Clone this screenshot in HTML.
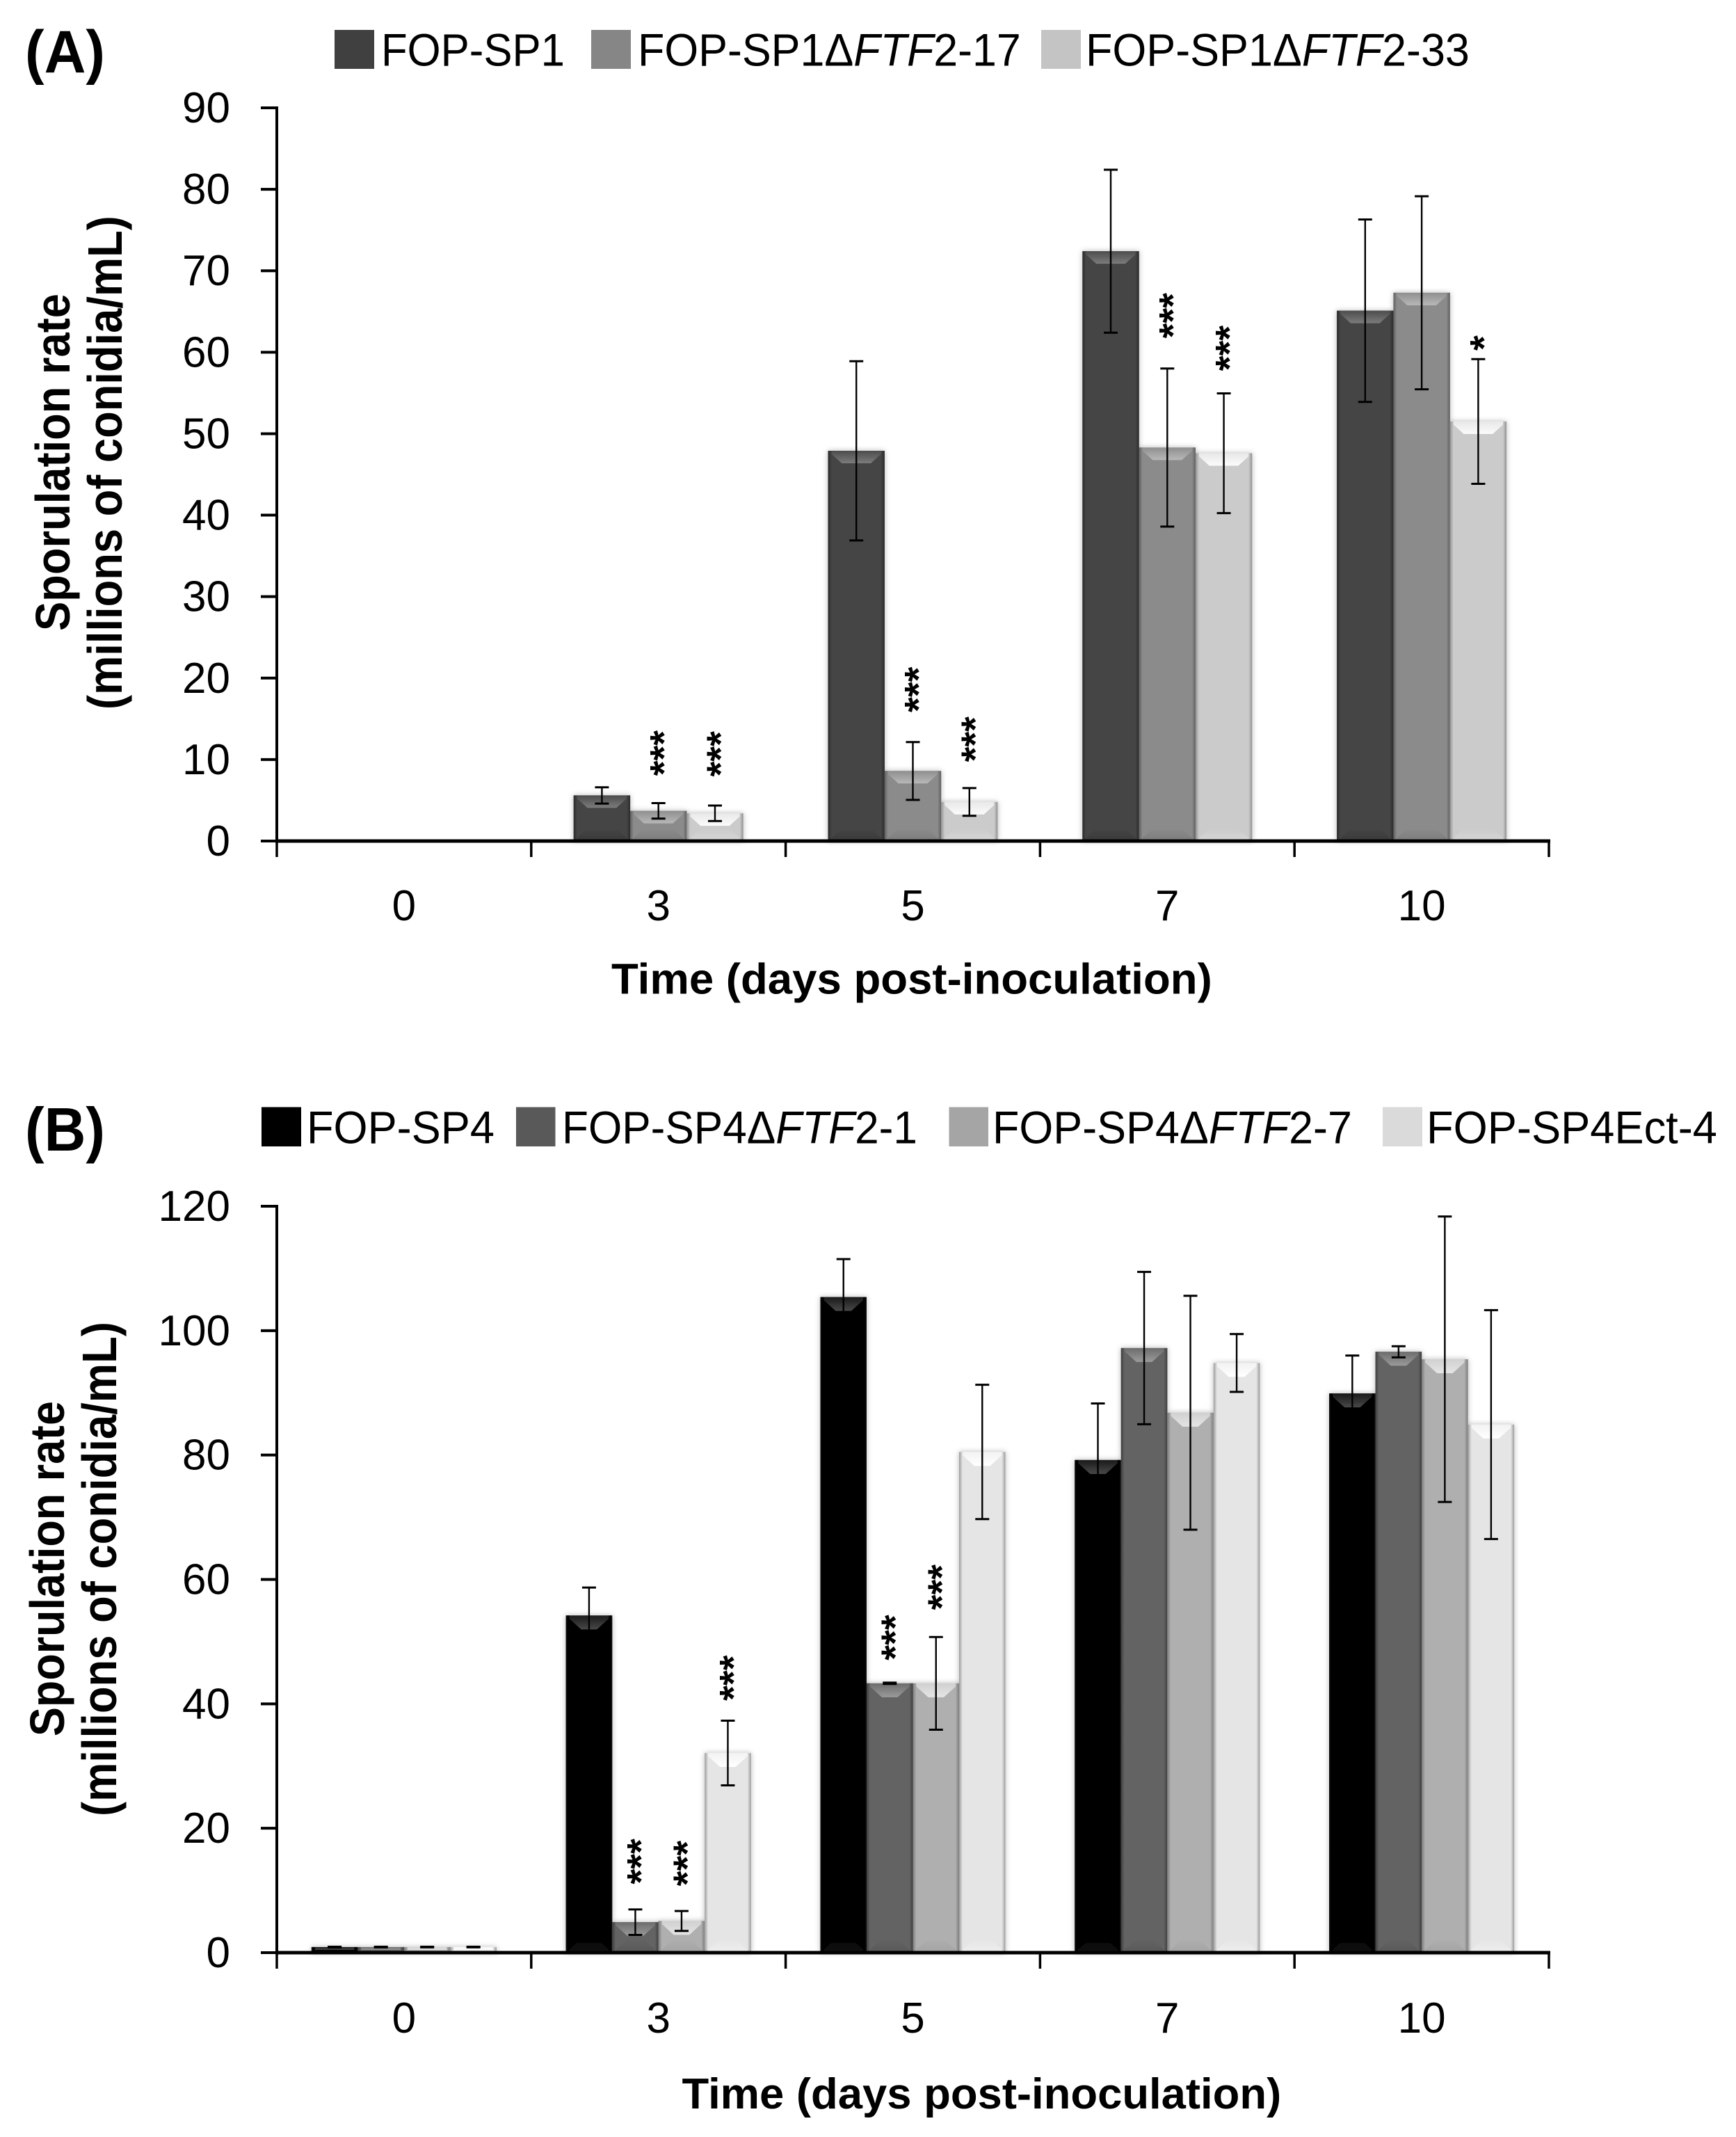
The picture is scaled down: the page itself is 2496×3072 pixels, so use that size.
<!DOCTYPE html>
<html lang="en">
<head>
<meta charset="utf-8">
<title>Sporulation rate charts</title>
<style>
html,body{margin:0;padding:0;background:#fff;}
svg{display:block;}
text{font-family:"Liberation Sans",Arial,sans-serif;fill:#000;}
.title{font-weight:bold;}
</style>
</head>
<body>
<svg id="figure" xmlns="http://www.w3.org/2000/svg" width="2496" height="3072" viewBox="0 0 2496 3072">
  <defs id="defs">
    <filter id="glow" x="-20%" y="-20%" width="140%" height="140%">
      <feDropShadow dx="0" dy="0" stdDeviation="4" flood-color="#000" flood-opacity="0.28"/>
    </filter>
  </defs>
  <rect width="2496" height="3072" fill="#fff"/>

  <text class="title fit" font-size="86" data-x="36" data-y="104" data-w="115">(A)</text>
  <text class="title fit" font-size="88" data-x="36" data-y="1654" data-w="115">(B)</text>

  <g>
    <g>
      <rect x="481" y="43" width="57" height="56" fill="#404040"/>
      <text class="fit" font-size="66" data-x="548" data-y="94.6" data-w="264">FOP-SP1</text>
    </g>
    <g>
      <rect x="850" y="43" width="57" height="56" fill="#868686"/>
      <text class="fit" font-size="66" data-x="917" data-y="94.6" data-w="551">FOP-SP1Δ<tspan font-style="italic">FTF</tspan>2-17</text>
    </g>
    <g>
      <rect x="1497" y="43" width="57" height="56" fill="#c4c4c4"/>
      <text class="fit" font-size="66" data-x="1561" data-y="94.6" data-w="552">FOP-SP1Δ<tspan font-style="italic">FTF</tspan>2-33</text>
    </g>
  </g>

  <g>
    <g>
      <rect x="376" y="1591.5" width="57" height="56.5" fill="#000"/>
      <text class="fit" font-size="66" data-x="441" data-y="1643.6" data-w="270">FOP-SP4</text>
    </g>
    <g>
      <rect x="742" y="1591.5" width="56.5" height="56.5" fill="#595959"/>
      <text class="fit" font-size="66" data-x="808" data-y="1643.6" data-w="511">FOP-SP4Δ<tspan font-style="italic">FTF</tspan>2-1</text>
    </g>
    <g>
      <rect x="1364.5" y="1591.5" width="56.5" height="56.5" fill="#a5a5a5"/>
      <text class="fit" font-size="66" data-x="1427" data-y="1643.6" data-w="517">FOP-SP4Δ<tspan font-style="italic">FTF</tspan>2-7</text>
    </g>
    <g>
      <rect x="1988" y="1591.5" width="57" height="56.5" fill="#dadada"/>
      <text class="fit" font-size="66" data-x="2051" data-y="1643.6" data-w="418">FOP-SP4Ect-4</text>
    </g>
  </g>

  <text class="title fit" font-size="70" data-x="100" data-y="907" data-r="-90" data-w="485">Sporulation rate</text>
  <text class="title fit" font-size="70" data-x="175" data-y="1020" data-r="-90" data-w="710">(millions of conidia/mL)</text>
  <text class="title fit" font-size="62" data-x="879" data-y="1428.6" data-w="864">Time (days post-inoculation)</text>

  <text class="title fit" font-size="70" data-x="92" data-y="2496" data-r="-90" data-w="482">Sporulation rate</text>
  <text class="title fit" font-size="70" data-x="167" data-y="2611" data-r="-90" data-w="711">(millions of conidia/mL)</text>
  <text class="title fit" font-size="62" data-x="980.5" data-y="3031" data-w="862">Time (days post-inoculation)</text>
</svg>

<script>
// ---------- shared categories ----------
var categories = ['0', '3', '5', '7', '10'];

// ---------- panel A data (millions of conidia/mL) ----------
var yTicksA = [0, 10, 20, 30, 40, 50, 60, 70, 80, 90];
var seriesNamesA = ['FOP-SP1', 'FOP-SP1-FTF2-17', 'FOP-SP1-FTF2-33'];
var sp1Values   = [0, 5.6, 47.9, 72.4, 65.1];
var sp1Errors   = [0, 1.0, 11.0, 10.0, 11.2];
var sp1d17Values = [0, 3.7, 8.6, 48.3, 67.3];
var sp1d17Errors = [0, 0.95, 3.55, 9.7, 11.85];
var sp1d33Values = [0, 3.4, 4.8, 47.6, 51.5];
var sp1d33Errors = [0, 0.95, 1.7, 7.35, 7.65];
var sp1Stars    = ['', '', '', '', ''];
var sp1d17Stars = ['', '***', '***', '***', ''];
var sp1d33Stars = ['', '***', '***', '***', '*'];
var sp1StarLevels    = [0, 0, 0, 0, 0];
var sp1d17StarLevels = [0, 8.0, 15.8, 61.7, 0];
var sp1d33StarLevels = [0, 7.9, 9.7, 57.7, 60.2];

// ---------- panel B data (millions of conidia/mL) ----------
var yTicksB = [0, 20, 40, 60, 80, 100, 120];
var seriesNamesB = ['FOP-SP4', 'FOP-SP4-FTF2-1', 'FOP-SP4-FTF2-7', 'FOP-SP4Ect-4'];
var sp4Values   = [0.9, 54.2, 105.4, 79.2, 89.9];
var sp4Errors   = [0.05, 4.5, 6.1, 9.1, 6.1];
var sp4d1Values = [0.9, 4.9, 43.3, 97.2, 96.6];
var sp4d1Errors = [0.05, 2.05, 0.1, 12.25, 0.9];
var sp4d7Values = [0.9, 5.1, 43.3, 86.8, 95.4];
var sp4d7Errors = [0.05, 1.6, 7.45, 18.8, 22.95];
var sp4EctValues = [0.9, 32.1, 80.5, 94.8, 84.9];
var sp4EctErrors = [0.05, 5.2, 10.8, 4.65, 18.4];
var sp4Stars    = ['', '', '', '', ''];
var sp4d1Stars  = ['', '***', '***', '', ''];
var sp4d7Stars  = ['', '***', '***', '', ''];
var sp4EctStars = ['', '***', '', '', ''];
var sp4StarLevels    = [0, 0, 0, 0, 0];
var sp4d1StarLevels  = [0, 11.0, 47.0, 0, 0];
var sp4d7StarLevels  = [0, 10.7, 55.1, 0, 0];
var sp4EctStarLevels = [0, 40.5, 0, 0, 0];

var NS = 'http://www.w3.org/2000/svg';
var svg = document.getElementById('figure');
var defs = document.getElementById('defs');

function mk(tag, attrs, parent) {
  var el = document.createElementNS(NS, tag);
  for (var k in attrs) el.setAttribute(k, attrs[k]);
  if (parent) parent.appendChild(el);
  return el;
}

function gradient(id, vertical, stops) {
  var g = mk('linearGradient', {id: id, x1: 0, y1: 0, x2: vertical ? 0 : 1, y2: vertical ? 1 : 0}, defs);
  stops.forEach(function (s) { mk('stop', {offset: s[0], 'stop-color': s[1]}, g); });
}

function makeStyle(id, s) {
  gradient(id + '-top', true, [[0, s.top1], [1, s.top2]]);
  gradient(id + '-bot', true, [[0, s.bot], [1, s.bot2]]);
  gradient(id + '-l', false, [[0, s.edge], [1, s.fill]]);
  gradient(id + '-r', false, [[0, s.fill], [1, s.edge]]);
}

function drawBar(parent, x, w, top, base, depth, s, id) {
  var h = base - top;
  if (h <= 0) return;
  var d = Math.min(depth, h / 2);
  var inset = d * 1.1;
  var sideW = 5;
  mk('rect', {x: x, y: top, width: w, height: h, fill: s.fill}, parent);
  mk('polygon', {points: [x, top, x + w, top, x + w - inset, top + d, x + inset, top + d].join(' '), fill: 'url(#' + id + '-top)'}, parent);
  mk('polygon', {points: [x + inset, base - d, x + w - inset, base - d, x + w, base, x, base].join(' '), fill: 'url(#' + id + '-bot)'}, parent);
  mk('rect', {x: x, y: top, width: sideW, height: h, fill: 'url(#' + id + '-l)'}, parent);
  mk('rect', {x: x + w - sideW, y: top, width: sideW, height: h, fill: 'url(#' + id + '-r)'}, parent);
}

function drawPanel(p) {
  var chart = mk('g', {}, svg);
  
  

  var yScale = function (v) { return p.bottom - (v / p.max) * (p.bottom - p.top); };
  var catW = (p.right - p.left) / categories.length;
  var nSeries = p.values.length;
  var barW = catW / (nSeries + p.gap);
  var xBar = function (c, s) { return p.left + c * catW + (catW - barW * nSeries) / 2 + s * barW; };

  p.styles.forEach(function (st, i) { makeStyle(p.id + '-s' + i, st); });

  // bars
  var barsG = mk('g', {filter: 'url(#glow)'}, chart);
  
  
  p.values.forEach(function (vals, s) {
    vals.forEach(function (v, c) {
      var g = mk('g', {}, barsG);
      
      
      drawBar(g, xBar(c, s), barW, yScale(v), p.bottom, p.depth, p.styles[s], p.id + '-s' + s);
    });
  });

  // axes
  var axisY = mk('line', {x1: p.left, x2: p.left, y1: p.top - 2, y2: p.bottom, stroke: '#000', 'stroke-width': 4}, chart);
  
  
  var axisX = mk('line', {x1: p.left - 2, x2: p.right + 2, y1: p.bottom, y2: p.bottom, stroke: '#000', 'stroke-width': 5}, chart);
  
  

  p.yTicks.forEach(function (t) {
    var y = yScale(t);
    var tick = mk('line', {x1: p.left - 23, x2: p.left, y1: y, y2: y, stroke: '#000', 'stroke-width': 4}, chart);
    
    
    var lab = mk('text', {x: 331, y: y + 21, 'font-size': 62, 'text-anchor': 'end'}, chart);
    
    
    lab.textContent = t;
  });

  for (var i = 0; i <= categories.length; i++) {
    var tx = p.left + i * catW;
    var xt = mk('line', {x1: tx, x2: tx, y1: p.bottom, y2: p.tickEnd, stroke: '#000', 'stroke-width': 3.5}, chart);
    
    
  }
  categories.forEach(function (cat, c) {
    var lab = mk('text', {x: p.left + (c + 0.5) * catW, y: p.labelY, 'font-size': 62, 'text-anchor': 'middle'}, chart);
    
    
    lab.textContent = cat;
  });

  // error bars
  p.errors.forEach(function (errs, s) {
    errs.forEach(function (e, c) {
      if (!e) return;
      var v = p.values[s][c];
      var cx = xBar(c, s) + barW / 2;
      var yHi = yScale(v + e), yLo = yScale(v - e);
      var g = mk('g', {stroke: '#000', fill: 'none'}, chart);
      
      
      mk('line', {x1: cx, x2: cx, y1: yHi, y2: yLo, 'stroke-width': 2.4}, g);
      mk('line', {x1: cx - 10, x2: cx + 10, y1: yHi, y2: yHi, 'stroke-width': 3}, g);
      mk('line', {x1: cx - 10, x2: cx + 10, y1: yLo, y2: yLo, 'stroke-width': 3}, g);
    });
  });

  // significance marks
  p.stars.forEach(function (row, s) {
    row.forEach(function (str, c) {
      if (!str) return;
      var cx = xBar(c, s) + barW / 2;
      var yB = yScale(p.starLevels[s][c]);
      var t = mk('text', {transform: 'translate(' + (cx + 27) + ',' + yB + ') rotate(-90)', 'font-size': 56, 'font-weight': 'bold'}, chart);
      
      
      t.textContent = str;
    });
  });
}

drawPanel({
  id: 'a', name: 'chart-a', left: 398, right: 2227, top: 155, bottom: 1209, max: 90, gap: 1.5,
  depth: 18, tickEnd: 1232, labelY: 1323,
  yTicks: yTicksA, seriesNames: seriesNamesA,
  values: [sp1Values, sp1d17Values, sp1d33Values],
  errors: [sp1Errors, sp1d17Errors, sp1d33Errors],
  stars: [sp1Stars, sp1d17Stars, sp1d33Stars],
  starLevels: [sp1StarLevels, sp1d17StarLevels, sp1d33StarLevels],
  styles: [
    {fill: '#454545', top1: '#4c4c4c', top2: '#7c7c7c', bot: '#454545', bot2: '#3a3a3a', edge: '#2b2b2b'},
    {fill: '#8b8b8b', top1: '#8f8f8f', top2: '#b8b8b8', bot: '#8b8b8b', bot2: '#7d7d7d', edge: '#606060'},
    {fill: '#cbcbcb', top1: '#e8e8e8', top2: '#fbfbfb', bot: '#cbcbcb', bot2: '#d6d6d6', edge: '#929292'}
  ]
});

drawPanel({
  id: 'b', name: 'chart-b', left: 398, right: 2227, top: 1734, bottom: 2807, max: 120, gap: 1.5,
  depth: 20, tickEnd: 2830, labelY: 2922,
  yTicks: yTicksB, seriesNames: seriesNamesB,
  values: [sp4Values, sp4d1Values, sp4d7Values, sp4EctValues],
  errors: [sp4Errors, sp4d1Errors, sp4d7Errors, sp4EctErrors],
  stars: [sp4Stars, sp4d1Stars, sp4d7Stars, sp4EctStars],
  starLevels: [sp4StarLevels, sp4d1StarLevels, sp4d7StarLevels, sp4EctStarLevels],
  styles: [
    {fill: '#000000', top1: '#1a1a1a', top2: '#484848', bot: '#000000', bot2: '#141414', edge: '#0a0a0a'},
    {fill: '#646464', top1: '#6c6c6c', top2: '#9a9a9a', bot: '#646464', bot2: '#585858', edge: '#3e3e3e'},
    {fill: '#afafaf', top1: '#d0d0d0', top2: '#e4e4e4', bot: '#afafaf', bot2: '#a4a4a4', edge: '#7c7c7c'},
    {fill: '#e5e5e5', top1: '#f2f2f2', top2: '#ffffff', bot: '#e5e5e5', bot2: '#eeeeee', edge: '#9c9c9c'}
  ]
});

// Fit static text runs to their measured widths
Array.prototype.forEach.call(document.querySelectorAll('text.fit'), function (t) {
  var x = t.getAttribute('data-x'), y = t.getAttribute('data-y');
  var r = t.getAttribute('data-r') || 0;
  var w = parseFloat(t.getAttribute('data-w'));
  var len = t.getComputedTextLength();
  t.setAttribute('transform', 'translate(' + x + ',' + y + ') rotate(' + r + ') scale(' + (w / len) + ',1)');
});
</script>
</body>
</html>
